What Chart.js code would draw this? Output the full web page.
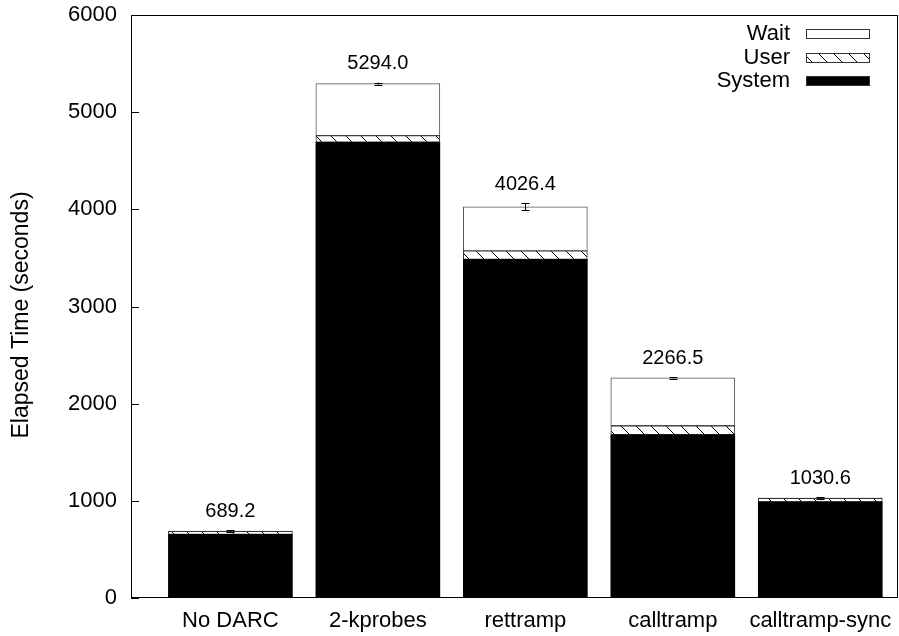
<!DOCTYPE html>
<html>
<head>
<meta charset="utf-8">
<script src="https://cdn.jsdelivr.net/npm/chart.js@4/dist/chart.umd.min.js"></script>
<style>
html,body{margin:0;padding:0;background:#fff;}
canvas{display:block;}
</style>
</head>
<body>
<canvas id="c" width="899" height="636"></canvas>
<script>
const categories = ['No DARC', '2-kprobes', 'rettramp', 'calltramp', 'calltramp-sync'];
const systemTime = [655, 4690, 3485, 1680, 990];
const userTime = [30, 68, 88, 93, 35];
const waitTime = [4.2, 536, 453.4, 493.5, 5.6];
const totals = [689.2, 5294.0, 4026.4, 2266.5, 1030.6];
const errors = [10, 10, 38, 8, 8];
const yTickValues = [0, 1000, 2000, 3000, 4000, 5000, 6000];
const seriesNames = ['System', 'User', 'Wait'];

const FONT = "'Liberation Sans', Arial, sans-serif";

function makeHatch() {
  const t = document.createElement('canvas');
  t.width = 15; t.height = 15;
  const g = t.getContext('2d');
  g.fillStyle = '#fff';
  g.fillRect(0, 0, 15, 15);
  g.strokeStyle = '#000';
  g.lineWidth = 1;
  g.beginPath();
  g.moveTo(-2, -2); g.lineTo(17, 17);
  g.moveTo(-17, -2); g.lineTo(2, 17);
  g.moveTo(13, -2); g.lineTo(32, 17);
  g.stroke();
  return g.createPattern(t, 'repeat');
}
const hatch = makeHatch();

const toXY = arr => arr.map((v, i) => ({x: i, y: v}));

const overlay = {
  id: 'overlay',
  afterDatasetsDraw(chart) {
    const ctx = chart.ctx;
    const xs = chart.scales.x, ys = chart.scales.y;
    const a = chart.chartArea;
    ctx.save();
    ctx.strokeStyle = '#000';
    ctx.lineWidth = 1;
    totals.forEach((t, i) => {
      const x = Math.round(xs.getPixelForValue(i)) + 0.5;
      const y1 = ys.getPixelForValue(t + errors[i]);
      const y2 = ys.getPixelForValue(t - errors[i]);
      ctx.beginPath();
      ctx.moveTo(x, y1); ctx.lineTo(x, y2);
      ctx.moveTo(x - 4, Math.round(y1) + 0.5); ctx.lineTo(x + 4, Math.round(y1) + 0.5);
      ctx.moveTo(x - 4, Math.round(y2) + 0.5); ctx.lineTo(x + 4, Math.round(y2) + 0.5);
      ctx.stroke();
      ctx.fillStyle = '#000';
      ctx.font = '20px ' + FONT;
      ctx.textAlign = 'center';
      ctx.textBaseline = 'middle';
      ctx.fillText(t.toFixed(1), xs.getPixelForValue(i), y1 - 19);
    });
    ctx.strokeStyle = '#000';
    ctx.lineWidth = 1;
    ctx.strokeRect(Math.round(a.left) + 0.5, Math.round(a.top) + 0.5,
                   Math.round(a.right - a.left) - 1, Math.round(a.bottom - a.top) - 1);
    ctx.beginPath();
    yTickValues.forEach(v => {
      const y = Math.round(ys.getPixelForValue(v)) + 0.5;
      ctx.moveTo(a.left, y); ctx.lineTo(a.left + 8, y);
    });
    ctx.stroke();
    const legend = [
      {name: seriesNames[2], fill: '#fff', y: 34},
      {name: seriesNames[1], fill: hatch, y: 58},
      {name: seriesNames[0], fill: '#000', y: 81}
    ];
    ctx.font = '22px ' + FONT;
    ctx.textAlign = 'right';
    ctx.textBaseline = 'middle';
    legend.forEach(l => {
      ctx.fillStyle = '#000';
      ctx.fillText(l.name, 790, l.y);
      ctx.fillStyle = l.fill;
      ctx.fillRect(806, l.y - 4.5, 64, 9);
      ctx.strokeStyle = '#333';
      ctx.strokeRect(806.5, l.y - 4.5, 63, 9);
    });
    ctx.save();
    ctx.translate(22, 315);
    ctx.rotate(-Math.PI / 2);
    ctx.textAlign = 'center';
    ctx.textBaseline = 'middle';
    ctx.fillStyle = '#000';
    ctx.font = '23px ' + FONT;
    ctx.fillText('Elapsed Time (seconds)', 0, 0);
    ctx.restore();
    ctx.restore();
  }
};

new Chart(document.getElementById('c'), {
  type: 'bar',
  data: {
    datasets: [
      {label: seriesNames[0], data: toXY(systemTime), backgroundColor: '#000', borderColor: '#000', borderWidth: 0},
      {label: seriesNames[1], data: toXY(userTime), backgroundColor: hatch, borderColor: '#333', borderWidth: 1, borderSkipped: false},
      {label: seriesNames[2], data: toXY(waitTime), backgroundColor: '#fff', borderColor: '#555', borderWidth: 1, borderSkipped: false}
    ]
  },
  options: {
    responsive: false,
    animation: false,
    devicePixelRatio: 1,
    layout: {padding: {top: 15, right: 1, left: 0, bottom: 0}},
    datasets: {bar: {barThickness: 124, grouped: false}},
    plugins: {legend: {display: false}, tooltip: {enabled: false}},
    scales: {
      x: {
        type: 'linear',
        min: -0.674,
        max: 4.527,
        offset: false,
        stacked: true,
        grid: {display: false, drawTicks: false, offset: false},
        border: {display: false},
        afterBuildTicks: s => { s.ticks = categories.map((c, i) => ({value: i})); },
        afterFit: s => { s.height = 38; s.paddingLeft = 0; s.paddingRight = 0; },
        ticks: {
          autoSkip: false,
          maxRotation: 0,
          padding: 10,
          color: '#000',
          font: {family: FONT, size: 22},
          callback: v => categories[v]
        }
      },
      y: {
        min: 0,
        max: 6000,
        stacked: true,
        grid: {display: false, drawTicks: false},
        border: {display: false},
        afterBuildTicks: s => { s.ticks = yTickValues.map(v => ({value: v})); },
        afterFit: s => { s.width = 131; s.paddingTop = 0; s.paddingBottom = 0; },
        ticks: {
          padding: 14,
          color: '#000',
          font: {family: FONT, size: 22},
          callback: v => String(v)
        }
      }
    }
  },
  plugins: [overlay]
});
</script>
</body>
</html>
